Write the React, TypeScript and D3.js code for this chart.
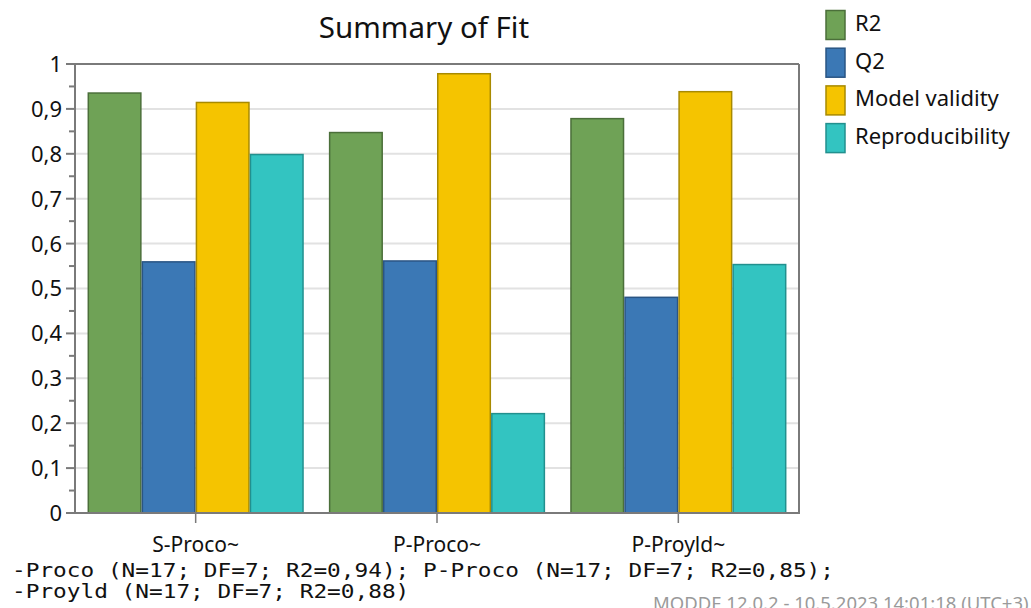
import React from "react";
import * as d3 from "d3";

const categories = ["S-Proco~", "P-Proco~", "P-Proyld~"];
const seriesNames = ["R2", "Q2", "Model validity", "Reproducibility"];
const r2 = [0.937, 0.849, 0.88];
const q2 = [0.561, 0.563, 0.482];
const modelValidity = [0.916, 0.98, 0.94];
const reproducibility = [0.8, 0.223, 0.555];
const yTicks = [0, 0.1, 0.2, 0.3, 0.4, 0.5, 0.6, 0.7, 0.8, 0.9, 1];
const fills = ["#6FA256", "#3B78B5", "#F5C400", "#33C4C1"];
const strokes = ["#4B6F3A", "#2A5584", "#A88A00", "#22908E"];
const footLines = [
  "-Proco (N=17; DF=7; R2=0,94); P-Proco (N=17; DF=7; R2=0,85);",
  "-Proyld (N=17; DF=7; R2=0,88)",
];
const stamp = "MODDE 12.0.2 - 10.5.2023 14:01:18 (UTC+3)";

const series = [r2, q2, modelValidity, reproducibility];

export default function App() {
  const W = 1031, H = 608;
  const left = 75, right = 799, top = 64, bottom = 513;
  const x0 = d3.scaleBand().domain(categories).range([left, right]).paddingInner(0.104).paddingOuter(0.052);
  const x1 = d3.scaleBand().domain(seriesNames).range([0, x0.bandwidth()]).padding(0);
  const y = d3.scaleLinear().domain([0, 1]).range([bottom, top]);
  const minor = d3.range(0.05, 1, 0.1);
  const font = "'Noto Sans', 'Open Sans', sans-serif";
  return (
    <svg width={W} height={H} style={{ position: "absolute", left: 0, top: 0, background: "#fff" }} fontFamily={font}>
      <text x={424} y={38} textAnchor="middle" fontSize={29.5} fill="#111">Summary of Fit</text>
      {yTicks.slice(1).map((t) => (
        <line key={"g" + t} x1={left} x2={right} y1={y(t)} y2={y(t)} stroke="#e2e2e2" strokeWidth={2} />
      ))}
      {categories.map((c, ci) =>
        series.map((s, si) => (
          <rect key={c + si} x={(x0(c) as number) + (x1(seriesNames[si]) as number) + 0.75}
            y={y(s[ci]) + 0.75} width={x1.bandwidth() - 1.5} height={bottom - y(s[ci]) - 0.75}
            fill={fills[si]} stroke={strokes[si]} strokeWidth={1.5} />
        ))
      )}
      <line x1={left} x2={right} y1={top} y2={top} stroke="#7a7a7a" strokeWidth={2} />
      <line x1={right} x2={right} y1={top} y2={bottom} stroke="#7a7a7a" strokeWidth={2} />
      <line x1={left} x2={left} y1={top - 1} y2={bottom} stroke="#7a7a7a" strokeWidth={2} />
      <line x1={left - 1} x2={right + 1} y1={bottom} y2={bottom} stroke="#7a7a7a" strokeWidth={2} />
      {yTicks.map((t) => (
        <g key={"t" + t}>
          <line x1={left - 9} x2={left} y1={y(t)} y2={y(t)} stroke="#7a7a7a" strokeWidth={2} />
          <text x={62} y={y(t)} dy="0.36em" textAnchor="end" fontSize={22} fill="#111">
            {d3.format(".1f")(t).replace(".", ",").replace(/^1,0$/, "1").replace(/^0,0$/, "0")}
          </text>
        </g>
      ))}
      {minor.map((t) => (
        <line key={"m" + t} x1={left - 6} x2={left} y1={y(t)} y2={y(t)} stroke="#7a7a7a" strokeWidth={2} />
      ))}
      {categories.map((c) => {
        const cx = (x0(c) as number) + x0.bandwidth() / 2;
        return (
          <g key={"c" + c}>
            <line x1={cx} x2={cx} y1={bottom} y2={bottom + 10} stroke="#7a7a7a" strokeWidth={1.5} />
            <text x={cx} y={552} textAnchor="middle" fontSize={21} fill="#111">{c}</text>
          </g>
        );
      })}
      {seriesNames.map((n, i) => (
        <g key={"l" + n}>
          <rect x={826} y={10.5 + i * 37.7} width={19} height={29} fill={fills[i]} stroke={strokes[i]} strokeWidth={1.5} />
          <text x={855} y={31 + i * 37.7} fontSize={22} fill="#111">{n}</text>
        </g>
      ))}
      {footLines.map((l, i) => (
        <text key={"f" + i} x={12} y={577 + i * 21} fontSize={20} textLength={l.length * 13.7} lengthAdjust="spacingAndGlyphs" fill="#111" fontFamily="'DejaVu Sans Mono', 'Liberation Mono', monospace" xmlSpace="preserve" style={{ whiteSpace: "pre" }}>{l}</text>
      ))}
      <text x={653} y={610} fontSize={18.5} fill="#9a9a9a">{stamp}</text>
    </svg>
  );
}
